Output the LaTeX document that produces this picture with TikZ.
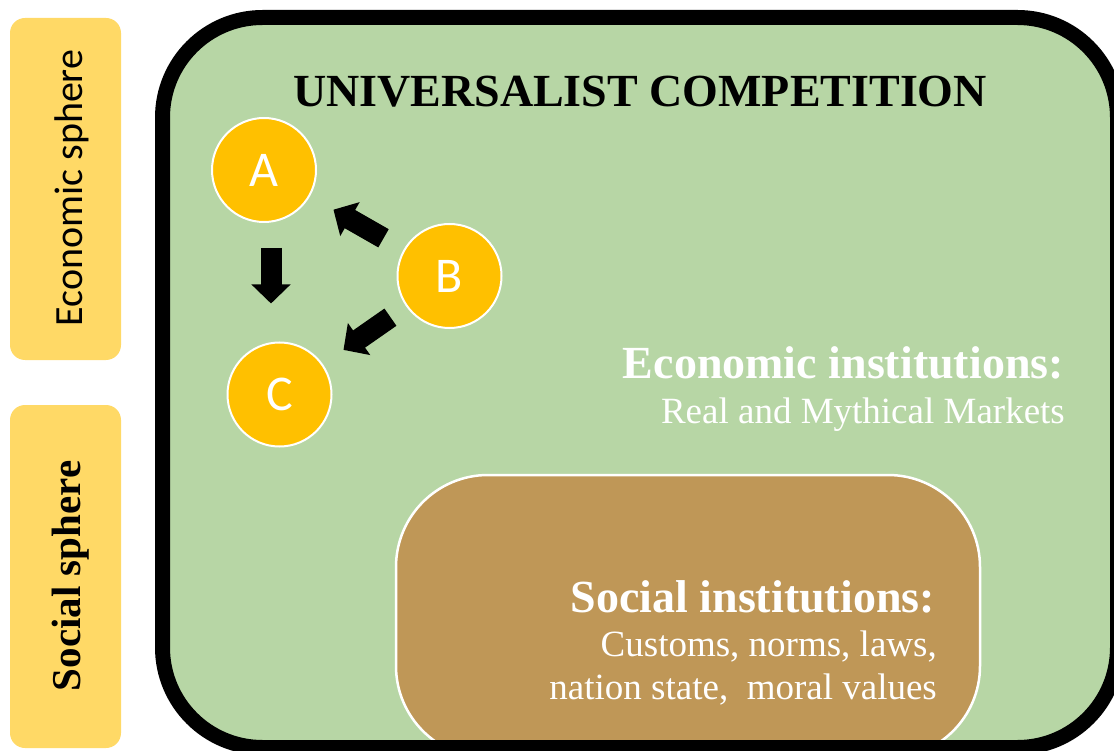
\documentclass[tikz,border=0pt]{standalone}
\usepackage{fontspec}
\setmainfont{Liberation Serif}
\newfontfamily\calibrifont{Carlito}
\usetikzlibrary{arrows.meta}

\definecolor{panelgreen}{HTML}{B7D6A5}
\definecolor{spheregold}{HTML}{FFD966}
\definecolor{agentorange}{HTML}{FFC000}
\definecolor{socialbrown}{HTML}{BF9757}

\begin{document}
\begin{tikzpicture}[x=1pt, y=-1pt,
	spherebox/.style = {shape=rectangle, rounded corners=15pt,
		fill=spheregold, minimum width=111pt, minimum height=342pt},
	agent/.style = {circle, draw=white, line width=2pt, fill=agentorange,
		minimum size=104pt, inner sep=0pt, outer sep=0pt,
		text=white, font=\calibrifont\fontsize{50}{60}\selectfont},
	blockarrow/.style = {line width=21pt,
		-{Triangle[width=38pt,length=19pt]}},
	headtext/.style = {inner sep=0pt, text=white,
		font=\bfseries\fontsize{46}{54}\selectfont},
	bodytext/.style = {inner sep=0pt, text=white,
		font=\fontsize{37}{44}\selectfont}]
	\useasboundingbox (0,0) rectangle (1114,751);
	\clip (0,0) rectangle (1114,751);

	% the two spheres on the left
	\node[spherebox] (econ) at (65.5,189) {};
	\node[spherebox, minimum height=343pt] (soc) at (65.5,576.5) {};
	\node[rotate=90, anchor=base, inner sep=0pt,
		font=\calibrifont\fontsize{40}{48}\selectfont] (econlabel) at (82,188) {Economic sphere};
	\node[rotate=90, anchor=base, inner sep=0pt,
		font=\bfseries\fontsize{41}{48}\selectfont] (soclabel) at (80,576) {Social sphere};

	% the big panel
	\fill[panelgreen, rounded corners=100pt] (162.5,17.5) rectangle (1117.5,747.5);
	\node[shape=rectangle, rounded corners=92pt, draw=white, line width=2.5pt,
		fill=socialbrown, minimum width=584pt, minimum height=283pt] (social) at (688,616.5) {};
	\draw[line width=15pt, rounded corners=100pt] (162.5,17.5) rectangle (1117.5,747.5);

	\node[anchor=base, inner sep=0pt, font=\bfseries\fontsize{46}{54}\selectfont]
		(title) at (640,107) {UNIVERSALIST COMPETITION};

	% agents
	\node[agent] (A) at (264,170) {A};
	\node[agent] (B) at (449.5,276) {B};
	\node[agent] (C) at (279.5,394.5) {C};

	\draw[blockarrow, shorten <=26pt, shorten >=39pt] ([xshift=7pt]A.south) -- ([xshift=-8.5pt]C.north);
	\draw[blockarrow, shorten <=24pt, shorten >=28pt] (B) -- (A);
	\draw[blockarrow, shorten <=20pt, shorten >=26pt] (B) -- (C);

	% institutions
	\node[headtext, anchor=base east] (econhead) at (1064,378) {Economic institutions:};
	\node[bodytext, anchor=base east] (econbody) at (1065,423) {Real and Mythical Markets};
	\node[headtext, anchor=base east] (sochead) at (935,612) {Social institutions:};
	\node[bodytext, anchor=base east] (socbody1) at (937,656) {Customs, norms, laws,};
	\node[bodytext, anchor=base east] (socbody2) at (937,699) {nation state,~ moral values};
\end{tikzpicture}
\end{document}
